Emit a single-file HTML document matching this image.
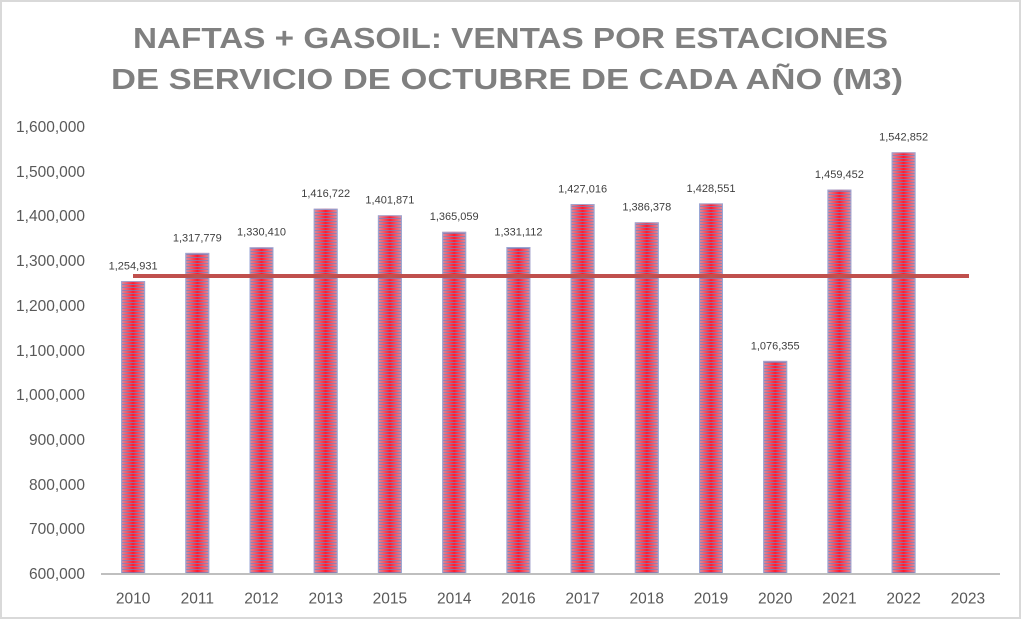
<!DOCTYPE html>
<html>
<head>
<meta charset="utf-8">
<style>
html,body{margin:0;padding:0;background:#fff;}
svg{display:block;}
</style>
</head>
<body>
<svg width="1023" height="621" viewBox="0 0 1023 621" xmlns="http://www.w3.org/2000/svg">
<defs>
<linearGradient id="hg" x1="0" y1="0" x2="1" y2="0">
<stop offset="0" stop-color="#d494a6"/>
<stop offset="0.25" stop-color="#f55565"/>
<stop offset="0.5" stop-color="#ff1a2e"/>
<stop offset="0.75" stop-color="#f55565"/>
<stop offset="1" stop-color="#d494a6"/>
</linearGradient>
<pattern id="stripes" x="0" y="0" width="10" height="3" patternUnits="userSpaceOnUse">
<rect x="0" y="2" width="10" height="1" fill="#7384c0" fill-opacity="0.75"/>
</pattern>
</defs>
<rect x="0" y="0" width="1023" height="621" fill="#fff"/>
<rect x="1" y="1" width="1019" height="617" fill="#fff" stroke="#d9d9d9" stroke-width="2"/>

<g font-family="'Liberation Sans', sans-serif" font-weight="bold" font-size="29" fill="#808080">
<text x="133" y="48" textLength="755" lengthAdjust="spacingAndGlyphs">NAFTAS + GASOIL: VENTAS POR ESTACIONES</text>
<text x="111" y="89" textLength="792" lengthAdjust="spacingAndGlyphs">DE SERVICIO DE OCTUBRE DE CADA AÑO (M3)</text>
</g>

<g font-family="'Liberation Sans', sans-serif" font-size="15.5" fill="#595959" text-anchor="end">
<text x="85" y="132">1,600,000</text>
<text x="85" y="177">1,500,000</text>
<text x="85" y="221">1,400,000</text>
<text x="85" y="266">1,300,000</text>
<text x="85" y="311">1,200,000</text>
<text x="85" y="356">1,100,000</text>
<text x="85" y="400">1,000,000</text>
<text x="85" y="445">900,000</text>
<text x="85" y="490">800,000</text>
<text x="85" y="534">700,000</text>
<text x="85" y="579">600,000</text>
</g>

<g id="bars">
<rect x="121.1" y="281.1" width="24" height="292.9" fill="url(#hg)"/>
<rect x="185.3" y="252.9" width="24" height="321.1" fill="url(#hg)"/>
<rect x="249.5" y="247.3" width="24" height="326.7" fill="url(#hg)"/>
<rect x="313.7" y="208.7" width="24" height="365.3" fill="url(#hg)"/>
<rect x="377.9" y="215.3" width="24" height="358.7" fill="url(#hg)"/>
<rect x="442.2" y="231.8" width="24" height="342.2" fill="url(#hg)"/>
<rect x="506.4" y="247.0" width="24" height="327.0" fill="url(#hg)"/>
<rect x="570.6" y="204.1" width="24" height="369.9" fill="url(#hg)"/>
<rect x="634.8" y="222.3" width="24" height="351.7" fill="url(#hg)"/>
<rect x="699.0" y="203.4" width="24" height="370.6" fill="url(#hg)"/>
<rect x="763.2" y="360.9" width="24" height="213.1" fill="url(#hg)"/>
<rect x="827.4" y="189.6" width="24" height="384.4" fill="url(#hg)"/>
<rect x="891.6" y="152.3" width="24" height="421.7" fill="url(#hg)"/>
</g>
<g fill="url(#stripes)" stroke="#9aa6d4" stroke-width="1">
<rect x="121.6" y="281.6" width="23" height="292.4"/>
<rect x="185.8" y="253.4" width="23" height="320.6"/>
<rect x="250.0" y="247.8" width="23" height="326.2"/>
<rect x="314.2" y="209.2" width="23" height="364.8"/>
<rect x="378.4" y="215.8" width="23" height="358.2"/>
<rect x="442.7" y="232.3" width="23" height="341.7"/>
<rect x="506.9" y="247.5" width="23" height="326.5"/>
<rect x="571.1" y="204.6" width="23" height="369.4"/>
<rect x="635.3" y="222.8" width="23" height="351.2"/>
<rect x="699.5" y="203.9" width="23" height="370.1"/>
<rect x="763.7" y="361.4" width="23" height="212.6"/>
<rect x="827.9" y="190.1" width="23" height="383.9"/>
<rect x="892.1" y="152.8" width="23" height="421.2"/>
</g>

<line x1="101" y1="574" x2="1000" y2="574" stroke="#bfbfbf" stroke-width="2"/>

<line x1="133" y1="276" x2="969" y2="276" stroke="#c0504d" stroke-width="4"/>

<g font-family="'Liberation Sans', sans-serif" font-size="11" fill="#404040" text-anchor="middle">
<text x="133.1" y="269.5">1,254,931</text>
<text x="197.3" y="241.3">1,317,779</text>
<text x="261.5" y="235.7">1,330,410</text>
<text x="325.7" y="197.1">1,416,722</text>
<text x="389.9" y="203.7">1,401,871</text>
<text x="454.2" y="220.2">1,365,059</text>
<text x="518.4" y="235.4">1,331,112</text>
<text x="582.6" y="192.5">1,427,016</text>
<text x="646.8" y="210.7">1,386,378</text>
<text x="711.0" y="191.8">1,428,551</text>
<text x="775.2" y="349.3">1,076,355</text>
<text x="839.4" y="178.0">1,459,452</text>
<text x="903.6" y="140.7">1,542,852</text>
</g>

<g font-family="'Liberation Sans', sans-serif" font-size="15.5" fill="#595959" text-anchor="middle">
<text x="133.1" y="603.5">2010</text>
<text x="197.3" y="603.5">2011</text>
<text x="261.5" y="603.5">2012</text>
<text x="325.7" y="603.5">2013</text>
<text x="389.9" y="603.5">2015</text>
<text x="454.2" y="603.5">2014</text>
<text x="518.4" y="603.5">2016</text>
<text x="582.6" y="603.5">2017</text>
<text x="646.8" y="603.5">2018</text>
<text x="711.0" y="603.5">2019</text>
<text x="775.2" y="603.5">2020</text>
<text x="839.4" y="603.5">2021</text>
<text x="903.6" y="603.5">2022</text>
<text x="967.9" y="603.5">2023</text>
</g>
</svg>
</body>
</html>
